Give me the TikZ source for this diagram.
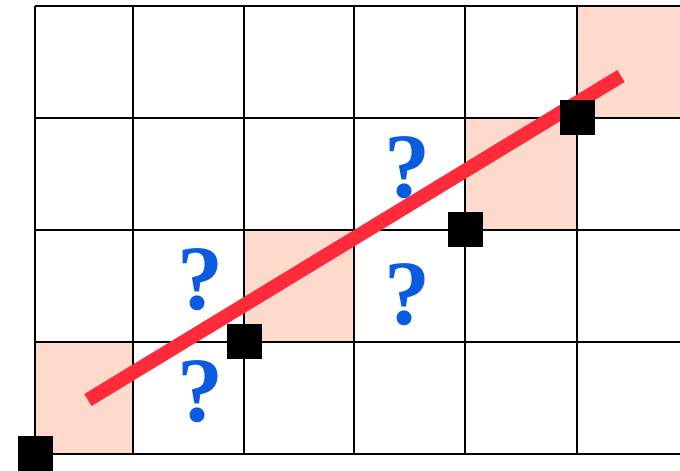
\documentclass[tikz,border=0pt]{standalone}
\usepackage{fontspec}
\setmainfont{Liberation Serif}
\usetikzlibrary{positioning}
\definecolor{cellfill}{HTML}{FDDACB}
\definecolor{linered}{HTML}{FF2A3A}
\definecolor{qblue}{HTML}{0A5BE0}
\begin{document}
\begin{tikzpicture}[x=1pt, y=1pt,
  cell/.style={fill=cellfill, draw=none},
  gridline/.style={line width=2.4pt, color=black},
  pix/.style={fill=black, draw=none, minimum size=35pt, inner sep=0pt},
  ask/.style={text=qblue, inner sep=0pt, font=\fontsize{92}{92}\selectfont\bfseries},
  seg/.style={line width=14pt, color=linered, line cap=butt}
]
\clip (0,0) rectangle (680,471);
% shaded cells
\fill[cell] (35,17) rectangle (133,129);
\fill[cell] (244,129) rectangle (354,241);
\fill[cell] (465,241) rectangle (577,353);
\fill[cell] (577,353) rectangle (690,465);
% grid
\foreach \gx in {35,133,244,354,465,577}
  \draw[gridline] (\gx,17) -- (\gx,465);
\foreach \gy in {17,129,241,353,465}
  \draw[gridline] (35,\gy) -- (690,\gy);
% line
\coordinate (p) at (88,71);
\coordinate (q) at (621,395);
\draw[seg] (p) -- (q);
% pixels
\node[pix] (s0) at (35,17) {};
\node[pix] (s1) at (244,129) {};
\node[pix] (s2) at (465,241) {};
\node[pix] (s3) at (577,353) {};
% candidates
\node[ask] (q1) at (200,191) {?};
\node[ask] (q2) at (200,79) {?};
\node[ask] (q3) at (407,303) {?};
\node[ask] (q4) at (407,176) {?};
\end{tikzpicture}
\end{document}
